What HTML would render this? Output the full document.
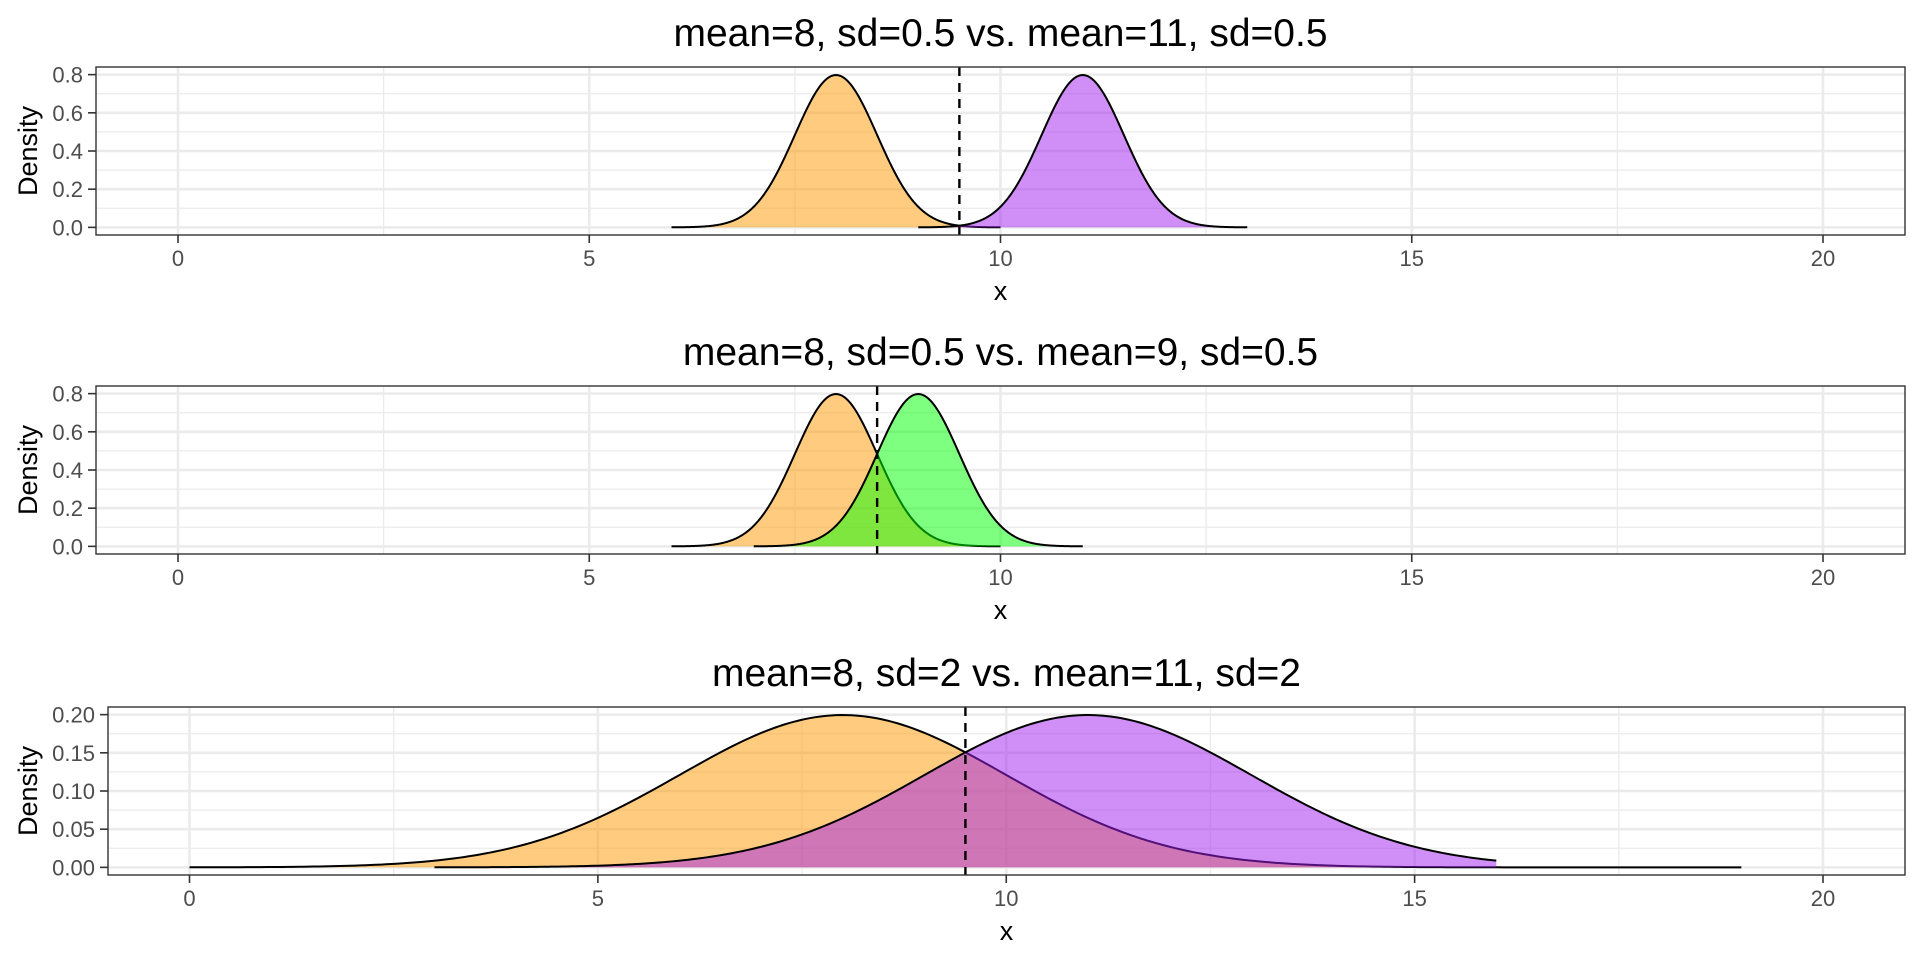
<!DOCTYPE html>
<html><head><meta charset="utf-8"><style>
body{margin:0;background:#fff;}
svg text{font-family:"Liberation Sans",sans-serif;}
</style></head><body>
<svg id="s" width="1920" height="960" xmlns="http://www.w3.org/2000/svg"></svg>
<script>
const S=document.getElementById('s');let h='';
function dn(x,m,sd){return Math.exp(-0.5*((x-m)/sd)**2)/(sd*Math.sqrt(2*Math.PI));}
const panels=[
 {top:67,left:96,x0:178,x20:1823,ymax:0.8,yt:[0,0.2,0.4,0.6,0.8],ym:[0.1,0.3,0.5,0.7],fmt:1,title:"mean=8, sd=0.5 vs. mean=11, sd=0.5",
  c:[{m:8,sd:.5,a:6,b:10,col:"#ff9a00"},{m:11,sd:.5,a:9,b:13,col:"#a020f0"}],v:9.5},
 {top:386,left:96,x0:178,x20:1823,ymax:0.8,yt:[0,0.2,0.4,0.6,0.8],ym:[0.1,0.3,0.5,0.7],fmt:1,title:"mean=8, sd=0.5 vs. mean=9, sd=0.5",
  c:[{m:8,sd:.5,a:6,b:10,col:"#ff9a00"},{m:9,sd:.5,a:7,b:11,col:"#00ff00"}],v:8.5},
 {top:707,left:108,x0:189.5,x20:1823,ymax:0.2,yt:[0,0.05,0.1,0.15,0.2],ym:[0.025,0.075,0.125,0.175],fmt:2,title:"mean=8, sd=2 vs. mean=11, sd=2",
  c:[{m:8,sd:2,a:0,b:19,col:"#ff9a00"},{m:11,sd:2,a:3,b:16,col:"#a020f0"}],v:9.5}
];
for(const p of panels){
 const R=1905,T=p.top,B=T+168,L=p.left;
 const X=x=>p.x0+(p.x20-p.x0)*x/20;
 const e=p.ymax*0.05;const Y=y=>B-(y+e)/(p.ymax+2*e)*(B-T);
 h+=`<rect x="${L}" y="${T}" width="${R-L}" height="${B-T}" fill="#fff"/>`;
 for(const y of p.ym)h+=`<line x1="${L}" x2="${R}" y1="${Y(y)}" y2="${Y(y)}" stroke="#ebebeb" stroke-width="1.3"/>`;
 for(const x of [2.5,7.5,12.5,17.5])h+=`<line x1="${X(x)}" x2="${X(x)}" y1="${T}" y2="${B}" stroke="#ebebeb" stroke-width="1.3"/>`;
 for(const y of p.yt)h+=`<line x1="${L}" x2="${R}" y1="${Y(y)}" y2="${Y(y)}" stroke="#ebebeb" stroke-width="2.6"/>`;
 for(const x of [0,5,10,15,20])h+=`<line x1="${X(x)}" x2="${X(x)}" y1="${T}" y2="${B}" stroke="#ebebeb" stroke-width="2.6"/>`;
 for(const c of p.c){
  let pts=[];for(let i=0;i<=300;i++){const x=c.a+(c.b-c.a)*i/300;pts.push(X(x).toFixed(2)+","+Y(dn(x,c.m,c.sd)).toFixed(2));}
  h+=`<polygon points="${X(c.a)},${Y(0)} ${pts.join(" ")} ${X(c.b)},${Y(0)}" fill="${c.col}" fill-opacity="0.5"/>`;
  h+=`<polyline points="${pts.join(" ")}" fill="none" stroke="#000" stroke-width="2"/>`;
 }
 h+=`<line x1="${X(p.v)}" x2="${X(p.v)}" y1="${T}" y2="${B}" stroke="#000" stroke-width="2.4" stroke-dasharray="9,7"/>`;
 h+=`<rect x="${L}" y="${T}" width="${R-L}" height="${B-T}" fill="none" stroke="#333" stroke-width="1.4"/>`;
 for(const y of p.yt){h+=`<line x1="${L-8}" x2="${L}" y1="${Y(y)}" y2="${Y(y)}" stroke="#333" stroke-width="1.6"/>`;
  h+=`<text x="${L-13}" y="${Y(y)+8}" font-size="22" fill="#4d4d4d" text-anchor="end">${y.toFixed(p.fmt)}</text>`;}
 for(const x of [0,5,10,15,20]){h+=`<line x1="${X(x)}" x2="${X(x)}" y1="${B}" y2="${B+8}" stroke="#333" stroke-width="1.6"/>`;
  h+=`<text x="${X(x)}" y="${B+31}" font-size="22" fill="#4d4d4d" text-anchor="middle">${x}</text>`;}
 h+=`<text x="${(L+R)/2}" y="${B+65}" font-size="27" fill="#000" text-anchor="middle">x</text>`;
 h+=`<text transform="translate(37,${(T+B)/2}) rotate(-90)" font-size="27" fill="#000" text-anchor="middle">Density</text>`;
 h+=`<text x="${(L+R)/2}" y="${T-21}" font-size="39" fill="#000" text-anchor="middle">${p.title}</text>`;
}
S.innerHTML=h;
</script>
</body></html>
